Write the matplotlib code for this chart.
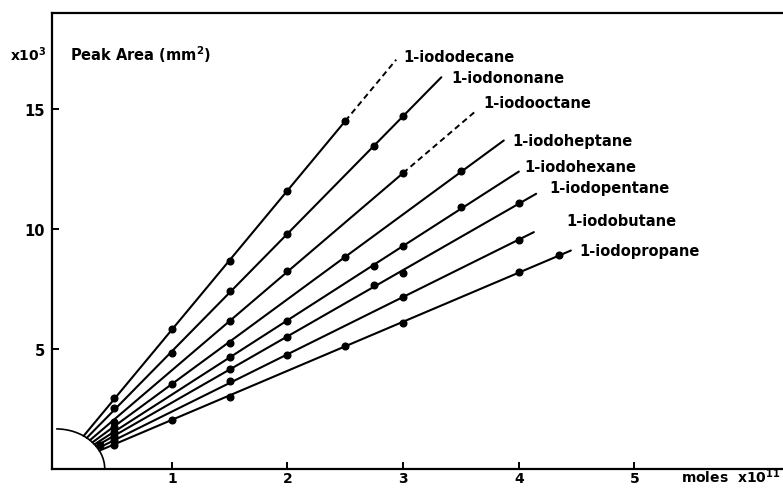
import numpy as np
import matplotlib
matplotlib.use("Agg")
import matplotlib.pyplot as plt
from matplotlib.patches import Arc

plt.rcParams["font.family"] = ["DejaVu Sans"]
plt.rcParams["font.weight"] = "bold"

# ---- data ----
names = ["1-iododecane", "1-iodononane", "1-iodooctane", "1-iodoheptane",
         "1-iodohexane", "1-iodopentane", "1-iodobutane", "1-iodopropane"]
x_decane = [0.5, 1.0, 1.5, 2.0, 2.5]
y_decane = [2.96, 5.83, 8.67, 11.6, 14.5]
x_nonane = [0.5, 1.0, 1.5, 2.0, 2.75, 3.0]
y_nonane = [2.54, 4.83, 7.42, 9.8, 13.46, 14.7]
x_octane = [0.5, 1.5, 2.0, 3.0]
y_octane = [1.96, 6.17, 8.25, 12.33]
x_heptane = [0.5, 1.0, 1.5, 2.5, 3.5]
y_heptane = [1.75, 3.54, 5.25, 8.85, 12.4]
x_hexane = [0.5, 1.5, 2.0, 2.75, 3.0, 3.5]
y_hexane = [1.55, 4.67, 6.17, 8.46, 9.29, 10.9]
x_pentane = [0.5, 1.5, 2.0, 2.75, 3.0, 4.0]
y_pentane = [1.38, 4.17, 5.5, 7.67, 8.17, 11.1]
x_butane = [0.5, 1.5, 2.0, 3.0, 4.0]
y_butane = [1.2, 3.67, 4.75, 7.17, 9.54]
x_propane = [0.38, 0.5, 1.0, 1.5, 2.5, 3.0, 4.0, 4.35]
y_propane = [1.0, 1.0, 2.04, 3.0, 5.13, 6.08, 8.2, 8.92]

x_series = [x_decane, x_nonane, x_octane, x_heptane, x_hexane, x_pentane, x_butane, x_propane]
y_series = [y_decane, y_nonane, y_octane, y_heptane, y_hexane, y_pentane, y_butane, y_propane]
solid_end = [2.5, 3.33, 3.0, 3.87, 4.0, 4.15, 4.13, 4.45]
dash_end = [2.94, None, 3.63, None, None, None, None, None]

xticks = [1, 2, 3, 4, 5]
yticks = [5, 10, 15]
arc_rx, arc_ry = 0.42, 1.67

# label offsets (pixels) from line end
label_off = [(7, 3), (10, 0), (7, 8), (9, 0), (5, 5), (13, 6), (32, 12), (8, 0)]

W, H = 783, 489
fig = plt.figure(figsize=(W / 100, H / 100), dpi=100)
ax = fig.add_axes([52 / W, 19 / H, 1 - 52 / W, 456 / H])
ax.set_xlim(-0.036, 6.284)
ax.set_ylim(0, 19)

for name, xs, ys, se, de, off in zip(names, x_series, y_series, solid_end, dash_end, label_off):
    xs = np.array(xs)
    ys = np.array(ys)
    k = np.sum(xs * ys) / np.sum(xs * xs)
    x0 = 1.0 / np.sqrt(1.0 / arc_rx ** 2 + k ** 2 / arc_ry ** 2)
    ax.plot([x0, se], [k * x0, k * se], color="black", lw=1.5, solid_capstyle="round")
    end = se
    if de is not None:
        ax.plot([se, de], [k * se, k * de], color="black", lw=1.4, ls=(0, (3, 2)))
        end = de
    ax.plot(xs, ys, "o", color="black", ms=4.8)
    ax.annotate(name, xy=(end, k * end), xytext=off, textcoords="offset pixels",
                ha="left", va="center", fontsize=10.5, fontweight="bold")

ax.add_patch(Arc((0, 0), 2 * arc_rx, 2 * arc_ry, theta1=0, theta2=90,
                 color="black", lw=1.2))

for s in ["top", "left", "bottom"]:
    ax.spines[s].set_linewidth(1.6)
ax.spines["right"].set_visible(False)

ax.set_xticks(xticks)
ax.set_xticklabels([str(t) for t in xticks])
ax.set_yticks(yticks)
ax.set_yticklabels([str(t) for t in yticks])
ax.tick_params(direction="in", length=5, width=1.4, labelsize=10.5)
ax.tick_params(axis="y", pad=5)
ax.tick_params(axis="x", pad=1.5, labelsize=10)
for lab in ax.get_xticklabels() + ax.get_yticklabels():
    lab.set_fontweight("bold")

fig.text(10 / W, 1 - 55 / H, r"x10$^\mathbf{3}$", ha="left", va="center",
         fontsize=10, fontweight="bold")
fig.text(70 / W, 1 - 55 / H, r"Peak Area (mm$^\mathbf{2}$)", ha="left", va="center",
         fontsize=10.5, fontweight="bold")
fig.text(1 - 3 / W, 3 / H, r"moles  x10$^\mathbf{11}$", ha="right", va="bottom",
         fontsize=10, fontweight="bold")

fig.savefig("out.png", dpi=100)
